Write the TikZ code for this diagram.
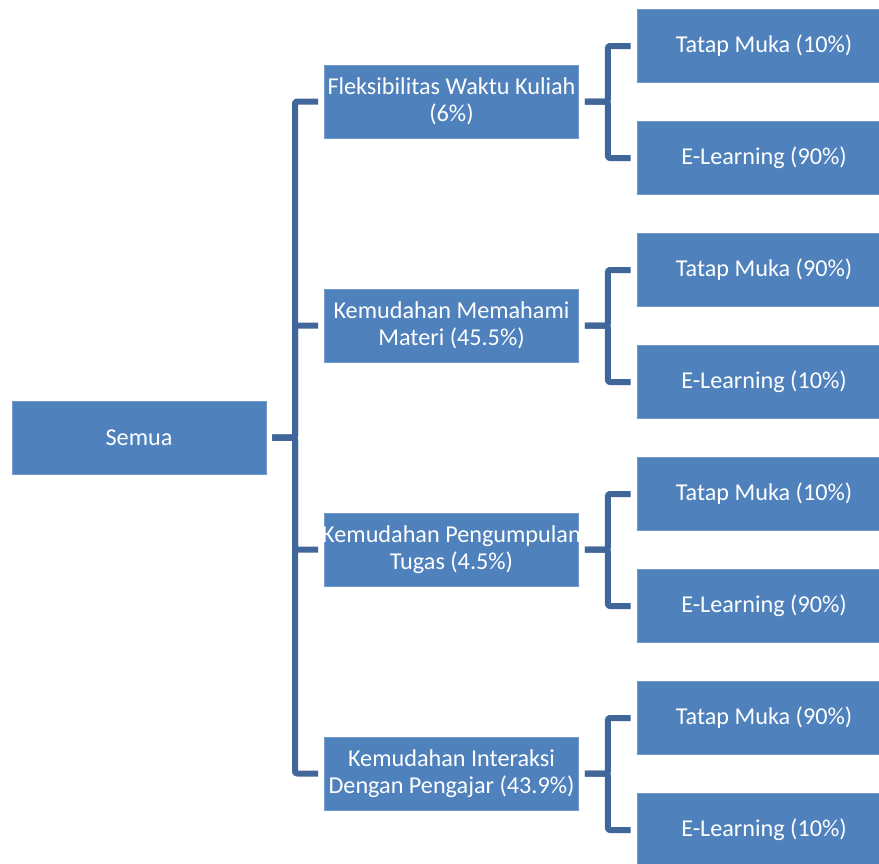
\documentclass[tikz,border=0pt]{standalone}
\usepackage{fontspec}
\setmainfont{Carlito}
\definecolor{boxblue}{HTML}{4F81BD}
\definecolor{linkblue}{HTML}{41679A}

\begin{document}
\begin{tikzpicture}[x=1pt, y=-1pt,
  box/.style={fill=boxblue, draw=boxblue!80!white, line width=0.8pt, text=white,
    minimum width=254pt, minimum height=73pt, inner sep=0pt, align=center,
    font=\fontsize{24.2}{27.5}\selectfont},
  link/.style={draw=linkblue, line width=6pt, line join=round, rounded corners=2pt}]

  % page frame (leaves run off the right and bottom edge)
  \clip (0,0) rectangle (879,863);

  % root
  \node[box] (root) at (139,437.5) {Semua};
  \coordinate (trunk) at (295,437.5);

  % four criteria, each with two leaves
  \foreach \i/\mtext/\tm/\el in {
      0/{Fleksibilitas Waktu Kuliah\\(6\%)}/10/90,
      1/{Kemudahan Memahami\\Materi (45.5\%)}/90/10,
      2/{\makebox[250pt]{Kemudahan Pengumpulan}\\Tugas (4.5\%)}/10/90,
      3/{Kemudahan Interaksi\\Dengan Pengajar (43.9\%)}/90/10} {
    \node[box] (mid\i) at (451.5,101.5+224*\i) {\mtext};
    \node[box] (tm\i) at (764,46+224*\i) {Tatap Muka (\tm\%)};
    \node[box] (el\i) at (764,158+224*\i) {E-Learning (\el\%)};

    % connectors
    \draw[link] ([xshift=6pt]root.east) -- (trunk) |- ([xshift=-6pt]mid\i.west);
    \draw[link] ([xshift=6pt]mid\i.east) -- ++(23,0) |- ([xshift=-6pt]tm\i.west);
    \draw[link] ([xshift=6pt]mid\i.east) -- ++(23,0) |- ([xshift=-6pt]el\i.west);
  }

\end{tikzpicture}
\end{document}
